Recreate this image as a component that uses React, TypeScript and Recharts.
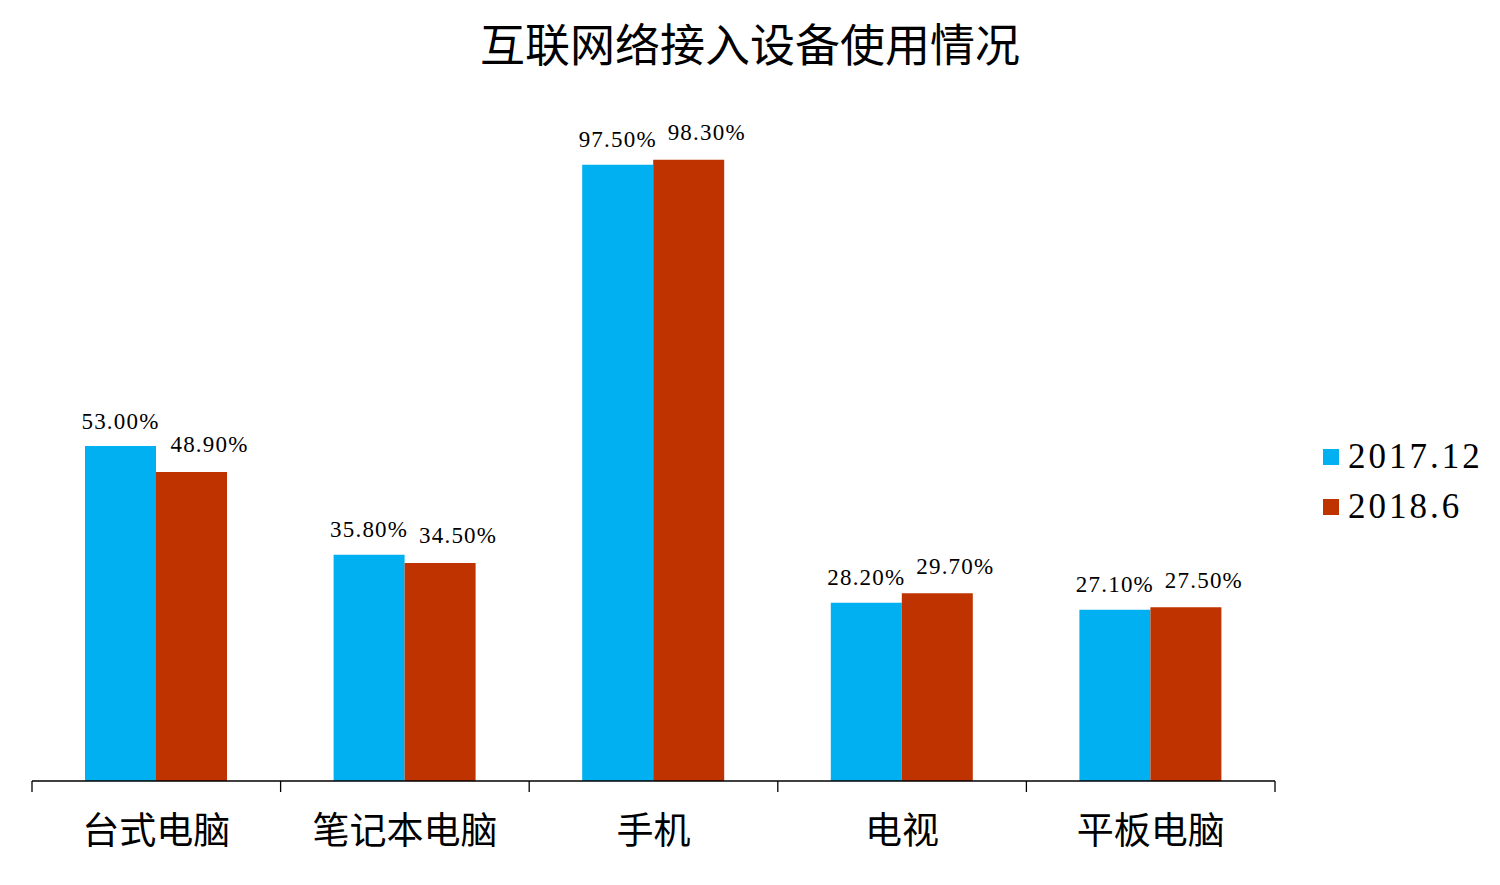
import React from 'react';
import { BarChart, Bar, XAxis, YAxis, LabelList } from 'recharts';

const categories = ['台式电脑', '笔记本电脑', '手机', '电视', '平板电脑'];
const series2017 = [53.0, 35.8, 97.5, 28.2, 27.1];
const series2018 = [48.9, 34.5, 98.3, 29.7, 27.5];
const seriesNames = ['2017.12', '2018.6'];
const colors = ['#00B0F0', '#BF3300'];

const data = categories.map((c, i) => ({ name: c, a: series2017[i], b: series2018[i] }));

const NUM_FONT = '"Liberation Serif", "Noto Sans CJK SC", serif';
const CJK_FONT = '"Noto Sans CJK SC", sans-serif';

const makeLabel = (dx: number, dy: number) => (props: any) => {
  const { x, y, width, value } = props;
  return (
    <text
      x={Number(x) + Number(width) / 2 + dx}
      y={Number(y) - dy}
      textAnchor="middle"
      dominantBaseline="central"
      fontFamily={NUM_FONT}
      fontSize={23}
      letterSpacing={1.2}
      fill="#000"
    >
      {Number(value).toFixed(2) + '%'}
    </text>
  );
};

const CategoryTick = (props: any) => {
  const { x, y, payload, index } = props;
  const band = 1243 / categories.length;
  const left = x - band / 2;
  return (
    <g>
      <line x1={left} y1={y} x2={left} y2={y + 11} stroke="#000" strokeWidth={1.3} />
      {index === categories.length - 1 && (
        <line x1={x + band / 2} y1={y} x2={x + band / 2} y2={y + 11} stroke="#000" strokeWidth={1.3} />
      )}
      <text
        x={x}
        y={y + 47}
        textAnchor="middle"
        dominantBaseline="central"
        fontFamily={CJK_FONT}
        fontSize={37}
        fill="#000"
      >
        {payload.value}
      </text>
    </g>
  );
};

const LegendBox = () => (
  <div style={{ position: 'absolute', left: 1323, top: 432, display: 'flex', flexDirection: 'column' }}>
    {seriesNames.map((n, i) => (
      <div key={n} style={{ display: 'flex', alignItems: 'center', height: 50 }}>
        <div style={{ width: 16, height: 16, background: colors[i], marginRight: 9 }} />
        <span style={{ fontFamily: NUM_FONT, fontSize: 35, letterSpacing: 3, color: '#000', lineHeight: '50px' }}>{n}</span>
      </div>
    ))}
  </div>
);

export default function App() {
  return (
    <div style={{ position: 'absolute', left: 0, top: 0, width: 1500, height: 885, background: '#fff' }}>
      <div
        style={{
          position: 'absolute',
          left: 0,
          top: 14,
          width: 1500,
          textAlign: 'center',
          fontFamily: CJK_FONT,
          fontSize: 45,
          lineHeight: '58px',
          color: '#000',
        }}
      >
        互联网络接入设备使用情况
      </div>
      <BarChart
        width={1500}
        height={885}
        data={data}
        margin={{ top: 149, right: 225, left: 32, bottom: 0 }}
        barGap={0}
        style={{ position: 'absolute', left: 0, top: 0 }}
      >
        <XAxis
          dataKey="name"
          height={104}
          tickLine={false}
          tickSize={0}
          tickMargin={0}
          axisLine={{ stroke: '#000', strokeWidth: 1.3 }}
          tick={<CategoryTick />}
          interval={0}
        />
        <YAxis hide domain={[0, 100]} />
        <Bar dataKey="a" name={seriesNames[0]} fill={colors[0]} barSize={71} isAnimationActive={false}>
          <LabelList dataKey="a" content={makeLabel(0, 25)} />
        </Bar>
        <Bar dataKey="b" name={seriesNames[1]} fill={colors[1]} barSize={71} isAnimationActive={false}>
          <LabelList dataKey="b" content={makeLabel(18, 27)} />
        </Bar>
      </BarChart>
      <LegendBox />
    </div>
  );
}
